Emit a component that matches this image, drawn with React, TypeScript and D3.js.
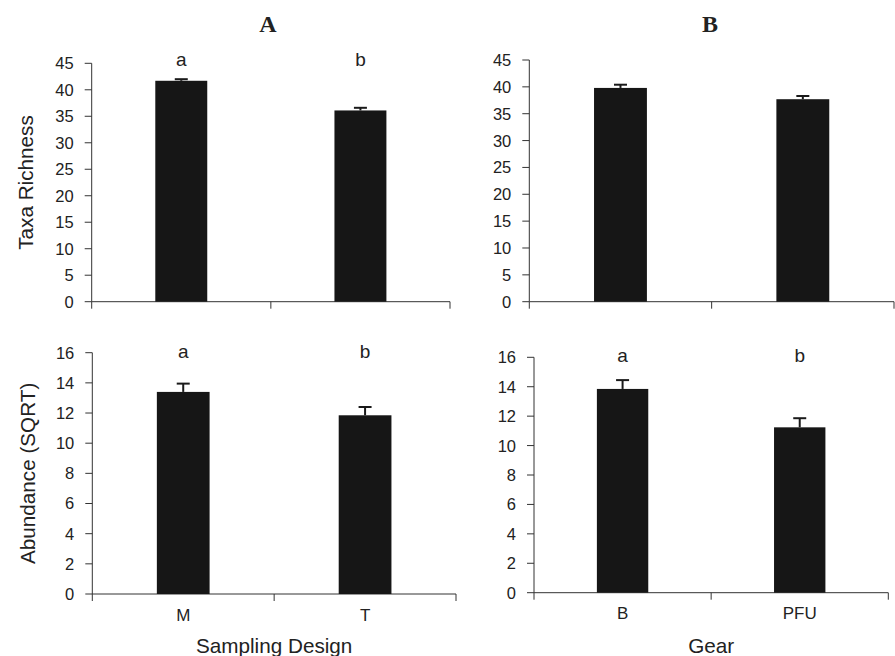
import React from "react";
import * as d3 from "d3";

// ---- Data ----
const designCats = ["M", "T"];
const gearCats = ["B", "PFU"];
const richnessDesign = [41.7, 36.1];
const richnessDesignErr = [0.3, 0.5];
const richnessGear = [39.8, 37.7];
const richnessGearErr = [0.6, 0.6];
const abundanceDesign = [13.4, 11.85];
const abundanceDesignErr = [0.55, 0.55];
const abundanceGear = [13.85, 11.24];
const abundanceGearErr = [0.6, 0.62];
const designLetters = ["a", "b"];
const gearLetters = ["a", "b"];
const richnessTicks = [0, 5, 10, 15, 20, 25, 30, 35, 40, 45];
const abundanceTicks = [0, 2, 4, 6, 8, 10, 12, 14, 16];

type PanelProps = {
  x0: number; x1: number; yBottom: number; yTop: number;
  domainMax: number; ticks: number[];
  cats: string[]; values: number[]; errs: number[];
  letters?: string[]; lettersBaseline?: number;
  catBaseline?: number; yLabel?: string; yLabelX?: number;
  xLabel?: string; xLabelBaseline?: number;
};

const FONT = "Liberation Sans, Arial, sans-serif";
const TXT = "#222";

function Panel(p: PanelProps) {
  const y = d3.scaleLinear().domain([0, p.domainMax]).range([p.yBottom, p.yTop]);
  const x = d3.scaleBand<string>().domain(p.cats).range([p.x0, p.x1]).paddingInner(0.71).paddingOuter(0.355);
  const step = (p.x1 - p.x0) / p.cats.length;
  const boundaries = d3.range(p.cats.length + 1).map((i) => p.x0 + i * step);
  const axisColor = "#333";
  return (
    <g>
      <line x1={p.x0} x2={p.x0} y1={p.yTop} y2={p.yBottom} stroke={axisColor} strokeWidth={1} />
      {p.ticks.map((t) => (
        <g key={t}>
          <line x1={p.x0 - 7} x2={p.x0} y1={y(t)} y2={y(t)} stroke={axisColor} strokeWidth={1} />
          <text x={p.x0 - 18} y={y(t)} dy="0.36em" textAnchor="end" fontFamily={FONT} fontSize={16.5} fill={TXT}>{t}</text>
        </g>
      ))}
      <line x1={p.x0} x2={p.x1} y1={p.yBottom} y2={p.yBottom} stroke={axisColor} strokeWidth={1} />
      {boundaries.map((b, i) => (
        <line key={i} x1={b} x2={b} y1={p.yBottom} y2={p.yBottom + 7} stroke={axisColor} strokeWidth={1} />
      ))}
      {p.cats.map((c, i) => {
        const bx = x(c)!;
        const bw = x.bandwidth();
        const cx = bx + bw / 2;
        const top = y(p.values[i]);
        const et = y(p.values[i] + p.errs[i]);
        return (
          <g key={c}>
            <line x1={cx} x2={cx} y1={top} y2={et} stroke="#1a1a1a" strokeWidth={2} />
            <line x1={cx - 6.5} x2={cx + 6.5} y1={et} y2={et} stroke="#1a1a1a" strokeWidth={2} />
            <rect x={bx} y={top} width={bw} height={p.yBottom - top} fill="#161616" />
            {p.letters && (
              <text x={cx} y={p.lettersBaseline} textAnchor="middle" fontFamily={FONT} fontSize={19} fill={TXT}>{p.letters[i]}</text>
            )}
            {p.catBaseline !== undefined && (
              <text x={cx} y={p.catBaseline} textAnchor="middle" fontFamily={FONT} fontSize={17} fill={TXT}>{c}</text>
            )}
          </g>
        );
      })}
      {p.yLabel && (
        <text transform={`translate(${p.yLabelX},${(p.yTop + p.yBottom) / 2}) rotate(-90)`} textAnchor="middle" fontFamily={FONT} fontSize={20.7} fill={TXT}>{p.yLabel}</text>
      )}
      {p.xLabel && (
        <text x={(p.x0 + p.x1) / 2} y={p.xLabelBaseline} textAnchor="middle" fontFamily={FONT} fontSize={20.7} fill={TXT}>{p.xLabel}</text>
      )}
    </g>
  );
}

export default function App() {
  return (
    <svg width={895} height={656} style={{ position: "absolute", left: 0, top: 0, background: "#fff" }}>
      <rect width={895} height={656} fill="#fff" />
      <text x={268} y={32.3} textAnchor="middle" fontFamily="Liberation Serif, Times New Roman, serif" fontWeight="bold" fontSize={24} fill={TXT}>A</text>
      <text x={710} y={32.3} textAnchor="middle" fontFamily="Liberation Serif, Times New Roman, serif" fontWeight="bold" fontSize={24} fill={TXT}>B</text>
      <Panel x0={91.7} x1={450} yBottom={301.7} yTop={63.3} domainMax={45} ticks={richnessTicks}
        cats={designCats} values={richnessDesign} errs={richnessDesignErr}
        letters={designLetters} lettersBaseline={65.7} yLabel="Taxa Richness" yLabelX={33} />
      <Panel x0={529.3} x1={894} yBottom={301.7} yTop={60} domainMax={45} ticks={richnessTicks}
        cats={gearCats} values={richnessGear} errs={richnessGearErr} />
      <Panel x0={92.3} x1={456} yBottom={594} yTop={352.7} domainMax={16} ticks={abundanceTicks}
        cats={designCats} values={abundanceDesign} errs={abundanceDesignErr}
        letters={designLetters} lettersBaseline={357.5} catBaseline={620.7} yLabel="Abundance (SQRT)" yLabelX={35}
        xLabel="Sampling Design" xLabelBaseline={653} />
      <Panel x0={534} x1={888.3} yBottom={592.7} yTop={357.3} domainMax={16} ticks={abundanceTicks}
        cats={gearCats} values={abundanceGear} errs={abundanceGearErr}
        letters={gearLetters} lettersBaseline={362} catBaseline={618.5} xLabel="Gear" xLabelBaseline={653} />
    </svg>
  );
}
